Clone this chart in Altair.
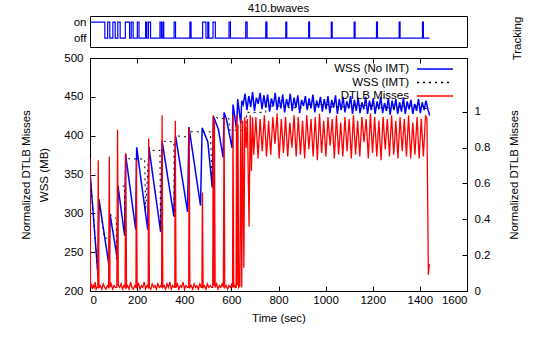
import altair as alt
import pandas as pd

FONT = "Liberation Sans"
FS = 11.5
NAMES = ["WSS (No IMT)", "WSS (IMT)", "DTLB Misses"]
COLORS = ["#0000ff", "#000000", "#ff0000"]

# Tracking state changes: time (s) and state (1 = on, 0 = off)
track_t = [0, 63, 75, 84, 97, 107, 118, 128, 150, 168, 175, 183, 201, 208,
           236, 241, 248, 257, 297, 303, 309, 313, 357, 363, 424, 429, 478,
           492, 500, 504, 522, 532, 590, 596, 661, 667, 746, 751, 831, 835,
           928, 932, 1024, 1028, 1121, 1125, 1216, 1220, 1312, 1316, 1411,
           1415, 1440]
track_s = [1, 0, 1, 0, 1, 0, 1, 0, 1, 0, 1, 0, 1, 0,
           1, 0, 1, 0, 1, 0, 1, 0, 1, 0, 1, 0, 1,
           0, 1, 0, 1, 0, 1, 0, 1, 0, 1, 0, 1, 0,
           1, 0, 1, 0, 1, 0, 1, 0, 1, 0, 1,
           0, 0]

# WSS without IMT (MB): sawtooth phase, explicit vertices
wss_ramp_t = [0, 34, 38, 81, 85, 116, 119, 147, 151, 194, 198, 245, 250, 300,
              306, 356, 363, 414, 420, 469, 476, 500, 519, 524, 545, 565, 569,
              580, 603, 607, 622, 627, 640, 644]
wss_ramp_v = [354, 219, 318, 232, 299, 241, 335, 271, 376, 279, 385, 279, 385,
              276, 393, 296, 400, 302, 411, 310, 410, 392, 333, 425, 408, 372,
              430, 420, 384, 440, 408, 447, 415, 445]
# WSS without IMT (MB): steady phase, one sample every 8 s from 650 s
wss_steady_start, wss_steady_step = 650, 8
wss_steady_v = [440, 454, 433, 451, 437, 456, 432, 449, 441, 455, 434, 452, 436,
                453, 431, 448, 438, 455, 433,
                450, 435, 453, 430, 447, 437, 454, 432, 449, 436, 452, 429, 446,
                438, 451, 433, 448, 435, 453, 430, 445, 436, 450, 431, 447,
                434, 451, 429, 446, 436, 452, 428, 447, 433, 450, 430, 444, 435,
                451, 428, 446, 432, 449, 429, 443, 434, 450, 428, 445, 433,
                448, 428, 444, 434, 450, 429, 442, 432, 448, 427, 445, 433, 447,
                428, 443, 431, 449, 428, 444, 434, 446, 428, 441, 432, 447, 429,
                443, 433, 445, 434, 426]

# WSS with IMT (MB)
imt_t = [0, 34, 38, 62, 82, 82, 85, 112, 112, 119, 147, 147, 151, 165, 232,
         236, 250, 257, 297, 299, 306, 356, 357, 363, 420, 421, 511, 519, 524,
         547, 590, 592, 662, 665, 746, 746, 831, 831, 928, 928, 1024, 1024,
         1121, 1121, 1216, 1216, 1312, 1312, 1411, 1411, 1446]
imt_v = [354, 219, 318, 268, 268, 232, 299, 293, 241, 335, 335, 271, 376, 370,
         370, 303, 385, 381, 381, 277, 393, 392, 296, 400, 398, 405, 405, 333,
         425, 422, 422, 407, 407, 430, 430, 438, 438, 436, 436, 440, 440, 437,
         437, 439, 439, 436, 436, 438, 438, 435, 435]

# Normalized DTLB misses: spiky phase, explicit vertices
dtlb_ramp_t = [0, 2, 6, 10, 14, 18, 22, 26, 30, 33, 35, 38, 44, 50, 56, 62, 68,
               74, 79, 82, 85, 90, 96, 102, 108, 114, 117, 120, 126, 132, 138,
               144, 149, 152, 155, 160, 166, 172, 178, 184, 190, 195, 197, 200,
               206, 212, 218, 224, 230, 236, 242, 247, 249, 252, 258, 264, 270,
               276, 282, 288, 294, 300, 304, 306, 309, 315, 321, 327, 333, 339,
               345, 351, 357, 360, 362, 365, 371, 377, 383, 389, 395, 401, 407,
               413, 419, 421, 424, 430, 436, 442, 448, 454, 460, 466, 472, 475,
               477, 480, 486, 492, 498, 504, 510, 516, 521, 523, 526, 528, 531,
               537, 543, 549, 555, 561, 566, 569, 572, 578, 584, 590, 596, 602,
               605, 607, 610, 614, 618, 620, 622, 625, 628, 631, 636, 640, 644,
               648, 653, 657, 663, 668, 675, 680, 685, 690]
dtlb_ramp_v = [0.74, 0.02, 0.04, 0.01, 0.03, 0.02, 0.05, 0.01, 0.02, 0.02, 0.73,
               0.02, 0.03, 0.01, 0.04, 0.02, 0.01, 0.03, 0.02, 0.75, 0.02, 0.04,
               0.01, 0.03, 0.02, 0.02, 0.90, 0.03, 0.02, 0.04, 0.01, 0.03, 0.02,
               0.77, 0.02, 0.03, 0.01, 0.05, 0.02, 0.01, 0.03, 0.02, 0.73, 0.02,
               0.04, 0.01, 0.03, 0.02, 0.05, 0.01, 0.03, 0.02, 0.85, 0.02, 0.01,
               0.04, 0.02, 0.03, 0.01, 0.04, 0.02, 0.03, 0.02, 0.98, 0.02, 0.03,
               0.01, 0.04, 0.02, 0.05, 0.01, 0.03, 0.02, 0.02, 0.95, 0.02, 0.04,
               0.01, 0.03, 0.02, 0.05, 0.01, 0.03, 0.02, 0.02, 0.91, 0.02, 0.03,
               0.01, 0.04, 0.02, 0.03, 0.01, 0.04, 0.02, 0.02, 0.55, 0.02, 0.03,
               0.01, 0.04, 0.02, 0.03, 0.02, 0.02, 0.98, 0.03, 0.95, 0.02, 0.04,
               0.01, 0.03, 0.02, 0.04, 0.02, 0.97, 0.02, 0.03, 0.01, 0.03, 0.02,
               0.04, 0.02, 0.98, 0.02, 0.03, 0.02, 0.02, 0.98, 0.03, 0.93, 0.02,
               0.03, 0.96, 0.02, 0.95, 0.13, 0.97, 0.80, 0.96, 0.36, 0.98, 0.67,
               0.97]
# Normalized DTLB misses: steady phase, one sample every 9 s from 695 s
dtlb_steady_start, dtlb_steady_step = 695, 9
dtlb_steady_v = [0.76, 0.97, 0.74, 0.96, 0.78, 0.98, 0.75, 0.95, 0.76, 0.97,
                 0.82, 0.99, 0.74, 0.96, 0.77, 0.97, 0.75, 0.94, 0.80, 0.98,
                 0.75, 0.97, 0.76, 0.95, 0.74, 0.98, 0.79, 0.96, 0.75, 0.97,
                 0.73, 0.99, 0.77, 0.95, 0.75, 0.97, 0.81, 0.96, 0.74, 0.98,
                 0.76, 0.94, 0.75, 0.97, 0.78, 0.96, 0.74, 0.98, 0.76, 0.95,
                 0.75, 0.97, 0.83, 0.96, 0.74, 0.99, 0.77, 0.97, 0.75, 0.95,
                 0.73, 0.97, 0.79, 0.96, 0.75, 0.98, 0.76, 0.95, 0.74, 0.97,
                 0.78, 0.96, 0.75, 0.98, 0.74, 0.94, 0.76, 0.97, 0.74, 0.96,
                 0.75, 0.98]
# Final drop when the run ends
dtlb_end_t = [1430, 1436, 1440]
dtlb_end_v = [0.96, 0.09, 0.15]


def frame(ts, vs, name):
    return pd.DataFrame({"t": ts, "v": vs, "series": name,
                         "i": list(range(len(ts)))})


wss_t = wss_ramp_t + [wss_steady_start + wss_steady_step * k
                      for k in range(len(wss_steady_v))]
dtlb_t = (dtlb_ramp_t
          + [dtlb_steady_start + dtlb_steady_step * k
             for k in range(len(dtlb_steady_v))]
          + dtlb_end_t)

wss_df = frame(wss_t, wss_ramp_v + wss_steady_v, NAMES[0])
imt_df = frame(imt_t, imt_v, NAMES[1])
dtlb_df = frame(dtlb_t, dtlb_ramp_v + dtlb_steady_v + dtlb_end_v, NAMES[2])
track_df = pd.DataFrame({"t": track_t, "s": track_s})

W = 377
x_scale = alt.Scale(domain=[0, 1600], nice=False, zero=False)
x_ticks = list(range(0, 1601, 200))

# Key in gnuplot style: label on the left, line sample on the right
legend = alt.Legend(
    title=None, orient="none", legendX=305, legendY=4,
    symbolType="M2.5,0H8.5", symbolSize=144, symbolStrokeWidth=1.5,
    labelAlign="right", labelOffset=0, labelFont=FONT, labelFontSize=FS,
    labelColor="black", rowPadding=0.5, padding=0, labelLimit=300,
)
color = alt.Color("series:N", scale=alt.Scale(domain=NAMES, range=COLORS),
                  legend=legend)
dash = alt.StrokeDash("series:N",
                      scale=alt.Scale(domain=NAMES,
                                      range=[[1, 0], [2, 4], [1, 0]]),
                      legend=legend)
order = alt.Order("i:Q")

wss_scale = alt.Scale(domain=[200, 500], nice=False, zero=False)
dtlb_scale = alt.Scale(domain=[0, 1.3], nice=False, zero=True)

blue = alt.Chart(wss_df).mark_line(strokeWidth=1.5, clip=True).encode(
    x=alt.X("t:Q", scale=x_scale, title="Time (sec)",
            axis=alt.Axis(orient="bottom", values=x_ticks, format="d",
                          offset=-5, tickSize=5, domain=False, labelPadding=3,
                          titlePadding=7)),
    y=alt.Y("v:Q", scale=wss_scale,
            title=["Normalized DTLB Misses", "WSS (MB)"],
            axis=alt.Axis(orient="left", values=list(range(200, 501, 50)),
                          offset=-5, tickSize=5, domain=False, labelPadding=7,
                          titlePadding=14, titleLineHeight=18)),
    color=color, strokeDash=dash, order=order,
)

black = alt.Chart(imt_df).mark_line(strokeWidth=1, clip=True).encode(
    x=alt.X("t:Q", scale=x_scale,
            axis=alt.Axis(orient="top", values=x_ticks, offset=-5, tickSize=5,
                          domain=False, labels=False, title=None)),
    y=alt.Y("v:Q", scale=wss_scale, axis=None),
    color=color, strokeDash=dash, order=order,
)

red = alt.Chart(dtlb_df).mark_line(strokeWidth=1.3, clip=True).encode(
    x=alt.X("t:Q", scale=x_scale, axis=None),
    y=alt.Y("v:Q", scale=dtlb_scale, title="Normalized DTLB Misses",
            axis=alt.Axis(orient="right", values=[0, 0.2, 0.4, 0.6, 0.8, 1],
                          format="~g", offset=-5, tickSize=5, domain=False,
                          labelPadding=7, titlePadding=30, titleAngle=270)),
    color=color, strokeDash=dash, order=order,
)

main = alt.layer(blue, black, red).resolve_scale(
    y="independent"
).resolve_axis(x="independent", y="independent").properties(width=W, height=233)

track_y_scale = alt.Scale(domain=[-0.56, 1.38], nice=False, zero=False)
track_line = alt.Chart(track_df).mark_line(
    interpolate="step-after", color="#0000ff", strokeWidth=1.2
).encode(
    x=alt.X("t:Q", scale=x_scale, axis=None),
    y=alt.Y("s:Q", scale=track_y_scale, title=None,
            axis=alt.Axis(orient="left", values=[0, 1], ticks=False,
                          domain=False, labelPadding=4,
                          labelExpr="datum.value == 1 ? 'on' : 'off'")),
)
track_title = alt.Chart(track_df).mark_line(strokeOpacity=0).encode(
    x=alt.X("t:Q", scale=x_scale, axis=None),
    y=alt.Y("s:Q", scale=track_y_scale, title="Tracking",
            axis=alt.Axis(orient="right", values=[0, 1], ticks=False,
                          labels=False, domain=False, titleAngle=270,
                          titlePadding=55, titleY=22)),
)
top = alt.layer(track_line, track_title).resolve_axis(y="independent").properties(
    width=W, height=31,
    title=alt.TitleParams("410.bwaves", fontSize=FS, font=FONT,
                          fontWeight="normal", offset=2, frame="group",
                          anchor="middle", color="black"),
)

chart = alt.vconcat(top, main, spacing=11, bounds="flush").resolve_scale(
    x="independent", color="independent", strokeDash="independent"
).properties(
    padding={"left": 20, "top": 2, "right": 4, "bottom": 6}
).configure_view(
    stroke="black", strokeWidth=1
).configure_axis(
    grid=False, labelFont=FONT, titleFont=FONT, labelFontSize=FS,
    titleFontSize=FS, titleFontWeight="normal", labelColor="black",
    titleColor="black", tickColor="black",
)

chart.save("out.html", embed_options={"renderer": "svg", "actions": False})
